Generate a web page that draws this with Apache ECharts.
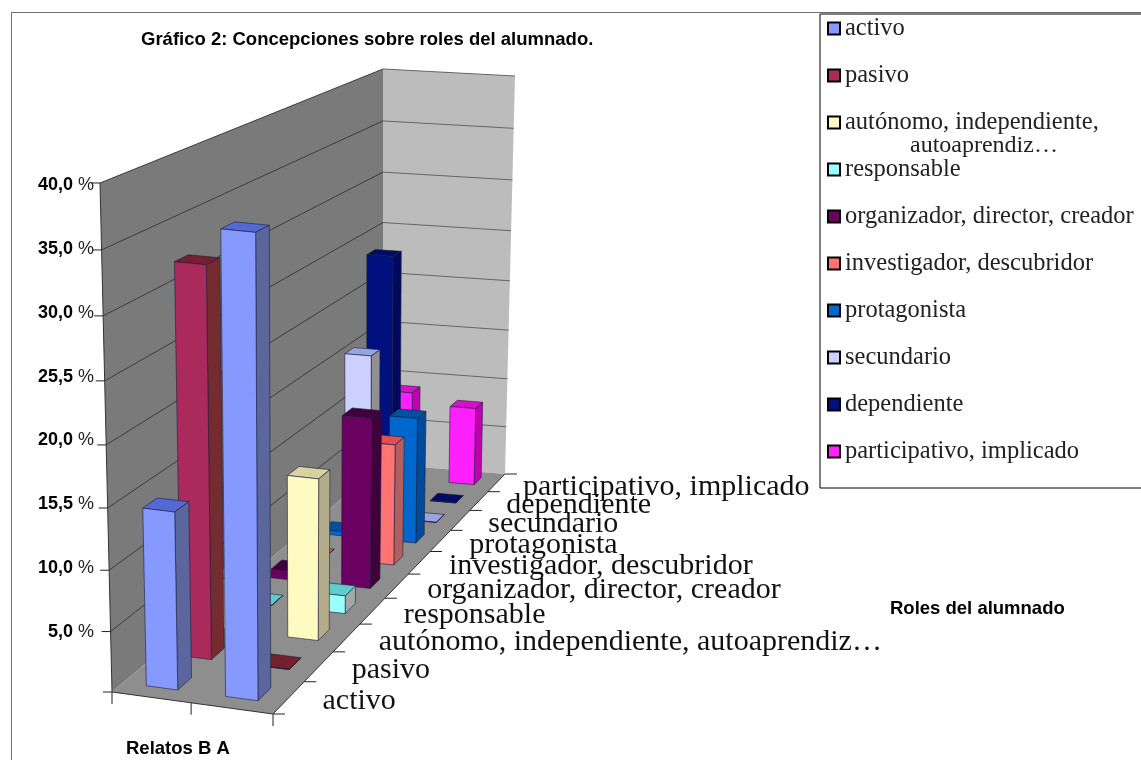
<!DOCTYPE html>
<html>
<head>
<meta charset="utf-8">
<style>
  html, body { margin: 0; background: #fff; }
  #chart { width: 1141px; height: 760px; }
</style>
<script src="https://cdn.jsdelivr.net/npm/echarts@6/dist/echarts.min.js"></script>
</head>
<body>
<div id="chart"></div>
<script>
const roleNames = ['activo', 'pasivo', 'autónomo, independiente, autoaprendiz…', 'responsable',
  'organizador, director, creador', 'investigador, descubridor', 'protagonista', 'secundario',
  'dependiente', 'participativo, implicado']
const relatosB = [14.6, 32.5, 4.5, 0, 0.8, 0, 0.4, 15.8, 24, 9]
const relatosA = [37, 0, 14, 1.6, 15.5, 11.3, 12, 0, 0, 7.9]
const frontColors = ['#8599ff', '#aa2a5c', '#fff9c2', '#99ffff', '#6a0060', '#ff7373', '#0068cc', '#ccd0ff', '#00107e', '#ff20ff']
const topColors = ['#5468d8', '#74202f', '#d8d2a0', '#5ccccc', '#40003f', '#e05050', '#00509f', '#98a4e0', '#000c60', '#d410c8']
const sideColors = ['#5a669c', '#742c30', '#b4ad8c', '#a0a8a8', '#40003a', '#b06060', '#004a99', '#909090', '#000a5c', '#c000b0']
const yTicks = [0, 5, 10, 15, 20, 25, 30, 35, 40]
const tickLabels = ['', '5,0', '10,0', '15,5', '20,0', '25,5', '30,0', '35,0', '40,0']

// esquinas del suelo y del techo: frente izq, frente der, fondo der, fondo izq
const floorCorners = [[112, 692], [273, 714], [505, 474], [383, 464]]
const topCorners = [[100, 183], [272, 200], [515, 76], [383, 69]]
const gridTop = 185
const gridBottom = 696
const barGap = 0.3

const quadMap = (q) => {
  const [[x0, y0], [x1, y1], [x2, y2], [x3, y3]] = q
  const dx1 = x1 - x2, dx2 = x3 - x2, sx = x0 - x1 + x2 - x3
  const dy1 = y1 - y2, dy2 = y3 - y2, sy = y0 - y1 + y2 - y3
  const den = dx1 * dy2 - dx2 * dy1
  const g = (sx * dy2 - dx2 * sy) / den
  const h = (dx1 * sy - sx * dy1) / den
  return (u, w) => {
    const d = g * u + h * w + 1
    return [((x1 - x0 + g * x1) * u + (x3 - x0 + h * x3) * w + x0) / d,
      ((y1 - y0 + g * y1) * u + (y3 - y0 + h * y3) * w + y0) / d]
  }
}
const floorAt = quadMap(floorCorners)
const topAt = quadMap(topCorners)

// u: eje de relatos 0-1, w: eje de roles 0-1, t: fraccion del eje de valores
const project = (u, w, t) => {
  const s = t / (t + (1 - t) * 1.06)
  const a = floorAt(u, w)
  const b = topAt(u, w)
  return [a[0] + (b[0] - a[0]) * s, a[1] + (b[1] - a[1]) * s]
}
const fraction = (api, v) => {
  const y0 = api.coord([0, 0])[1]
  const y1 = api.coord([0, 40])[1]
  return (api.coord([0, v])[1] - y0) / (y1 - y0)
}
const poly = (points, fill, stroke, width) => ({
  type: 'polygon',
  shape: { points },
  style: { fill, stroke: stroke || null, lineWidth: width || 0 }
})
const seg = (a, b, stroke) => ({
  type: 'line',
  shape: { x1: a[0], y1: a[1], x2: b[0], y2: b[1] },
  style: { stroke, lineWidth: 1 }
})

const renderWalls = (params, api) => {
  const children = [
    poly([project(0, 0, 0), project(0, 0, 1), project(0, 1, 1), project(0, 1, 0)], '#7a7a7a'),
    poly([project(0, 1, 0), project(0, 1, 1), project(1, 1, 1), project(1, 1, 0)], '#bcbcbc'),
    poly([project(0, 0, 0), project(1, 0, 0), project(1, 1, 0), project(0, 1, 0)], '#8e8e8e'),
    seg(project(0, 0, 0), project(0, 0, 1), '#333'),
    seg(project(0, 0, 0), project(1, 0, 0), '#333'),
    seg(project(1, 0, 0), project(1, 1, 0), '#333')
  ]
  yTicks.forEach((v) => {
    const t = fraction(api, v)
    const a = project(0, 0, t)
    if (v > 0) {
      children.push(seg(a, project(0, 1, t), '#3c3c3c'))
      children.push(seg(project(0, 1, t), project(1, 1, t), '#666'))
    }
    children.push(seg([a[0] - 9, a[1]], a, '#222'))
  })
  ;[0, 0.5, 1].forEach((u) => {
    const a = project(u, 0, 0)
    children.push(seg(a, [a[0], a[1] + 12], '#222'))
  })
  roleNames.forEach((name, i) => {
    const a = project(1, i / 10, 0)
    children.push(seg(a, [a[0] + 12, a[1]], '#222'))
  })
  const b = project(1, 1, 0)
  children.push(seg(b, [b[0] + 12, b[1]], '#222'))
  return { type: 'group', children }
}

const renderLabel = (params, api) => {
  const w = (params.dataIndex + 0.5) / 10
  const a = project(1, w, 0)
  return {
    type: 'text',
    style: {
      x: a[0] + 34 - 8 * w,
      y: a[1] + 4,
      text: roleNames[params.dataIndex],
      font: '30px "Liberation Serif"',
      fill: '#111',
      textAlign: 'left',
      textVerticalAlign: 'middle'
    }
  }
}

const renderBar = (role) => (params, api) => {
  const slot = api.value(0)
  const t = fraction(api, api.value(1))
  const u0 = (slot + barGap) / 2, u1 = (slot + 1 - barGap) / 2
  const w0 = (role + barGap) / 10, w1 = (role + 1 - barGap) / 10
  const edge = '#1c1c3c'
  return {
    type: 'group',
    children: [
      poly([project(u0, w0, t), project(u1, w0, t), project(u1, w1, t), project(u0, w1, t)], topColors[role], edge, 0.6),
      poly([project(u1, w0, 0), project(u1, w1, 0), project(u1, w1, t), project(u1, w0, t)], sideColors[role], edge, 0.6),
      poly([project(u0, w0, 0), project(u1, w0, 0), project(u1, w0, t), project(u0, w0, t)], frontColors[role], edge, 0.6)
    ]
  }
}

const barSeries = roleNames.map((name, i) => ({
  name,
  type: 'custom',
  coordinateSystem: 'cartesian2d',
  z: 20 - i,
  clip: false,
  silent: true,
  itemStyle: { color: frontColors[i] },
  encode: { x: 0, y: 1 },
  renderItem: renderBar(i),
  data: [[0, relatosB[i]], [1, relatosA[i]]]
}))

const boldText = { fontFamily: 'Liberation Sans', fontSize: 18.5, fontWeight: 'bold', color: '#000' }

const chart = echarts.init(document.getElementById('chart'))
chart.setOption({
  animation: false,
  backgroundColor: '#fff',
  title: [
    { text: 'Gráfico 2: Concepciones sobre roles del alumnado.', left: 136, top: 25, textStyle: boldText },
    { text: 'Roles del alumnado', left: 885, top: 594, textStyle: boldText },
    { text: 'Relatos B A', left: 121, top: 734, textStyle: boldText }
  ],
  grid: { left: 98, right: 700, top: gridTop, bottom: 760 - gridBottom },
  xAxis: { type: 'value', min: 0, max: 2, show: false },
  yAxis: {
    type: 'value',
    min: 0,
    max: 40,
    interval: 5,
    axisLine: { show: false },
    axisTick: { show: false },
    splitLine: { show: false },
    axisLabel: {
      margin: 4,
      formatter: (v) => {
        const label = tickLabels[yTicks.indexOf(v)]
        return label ? `{n|${label}}{p| %}` : ''
      },
      rich: {
        n: { fontFamily: 'Liberation Sans', fontSize: 18, fontWeight: 'bold', color: '#000' },
        p: { fontFamily: 'Liberation Sans', fontSize: 18, color: '#222' }
      }
    }
  },
  legend: {
    orient: 'vertical',
    left: 820,
    top: 14,
    padding: [2, 400, 24, 7],
    itemWidth: 12,
    itemHeight: 12,
    itemGap: 22,
    icon: 'rect',
    selectedMode: false,
    borderColor: '#000',
    borderWidth: 1,
    itemStyle: { borderColor: '#000', borderWidth: 2 },
    textStyle: { fontFamily: 'Liberation Serif', fontSize: 24.5, lineHeight: 22, color: '#222' },
    data: roleNames,
    formatter: (name) => name.startsWith('autónomo') ? 'autónomo, independiente,' : name
  },
  graphic: [
    { type: 'line', shape: { x1: 11.5, y1: 12.5, x2: 1141, y2: 12.5 }, style: { stroke: '#6e6e6e', lineWidth: 1 }, silent: true },
    { type: 'line', shape: { x1: 11.5, y1: 12.5, x2: 11.5, y2: 760 }, style: { stroke: '#6e6e6e', lineWidth: 1 }, silent: true },
    { type: 'text', left: 910, top: 134, silent: true, style: { text: 'autoaprendiz…', font: '24px "Liberation Serif"', fill: '#222' } }
  ],
  series: [
    {
      type: 'custom',
      coordinateSystem: 'cartesian2d',
      z: 1,
      clip: false,
      silent: true,
      renderItem: renderWalls,
      encode: { x: 0, y: 1 },
      data: [[0, 0]]
    },
    ...barSeries,
    {
      type: 'custom',
      coordinateSystem: 'cartesian2d',
      z: 30,
      clip: false,
      silent: true,
      renderItem: renderLabel,
      encode: { x: 0, y: 1 },
      data: roleNames.map(() => [0, 0])
    }
  ]
})
</script>
</body>
</html>
